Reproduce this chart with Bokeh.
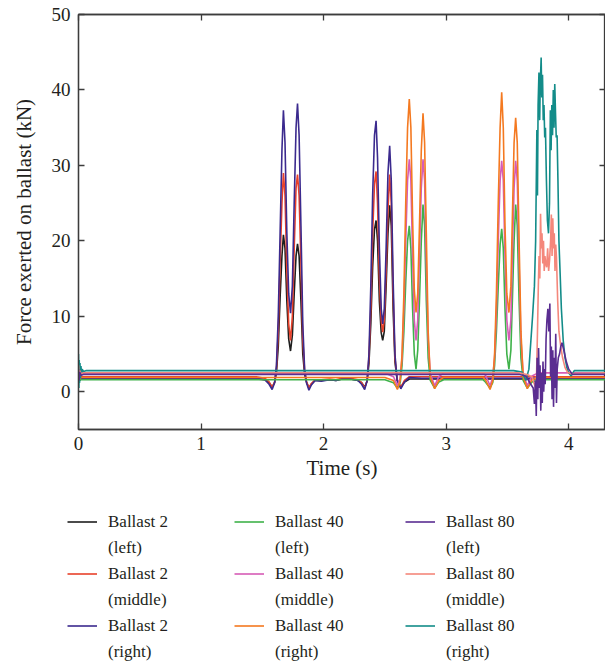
from bokeh.plotting import figure
from bokeh.layouts import column
from bokeh.models import Range1d, LinearAxis, FixedTicker, Legend, LegendItem
from bokeh.core.properties import value
from bokeh.embed import file_html
from bokeh.resources import INLINE

FONT = "Liberation Serif"
TXT = "#231f20"

# ---------------- data ----------------
# Ballast 2 group (shared time axis, s)
T2 = [0.0, 0.004, 0.008, 0.012, 0.02, 0.03, 0.05, 1.0, 1.45, 1.52,
      1.555, 1.58, 1.60, 1.615, 1.63, 1.645, 1.66, 1.672, 1.685, 1.70,
      1.715, 1.73, 1.745, 1.76, 1.775, 1.787, 1.80, 1.815, 1.83, 1.845,
      1.86, 1.88, 1.90, 1.93, 1.98, 2.05, 2.10, 2.15, 2.22, 2.28,
      2.31, 2.335, 2.355, 2.37, 2.385, 2.40, 2.415, 2.428, 2.44, 2.455,
      2.47, 2.482, 2.495, 2.51, 2.525, 2.539, 2.552, 2.567, 2.582, 2.60,
      2.63, 2.66, 2.70, 2.80, 3.2, 3.9, 4.3]
B2_left = [2.0, 1.4, 1.9, 1.6, 1.7, 1.7, 1.7, 1.7, 1.7, 1.6,
           1.2, 0.6, 1.2, 2.5, 6, 12.5, 18, 20.8, 19, 12,
           7, 5.4, 7.5, 13, 18, 19.6, 18, 12, 5, 2.3,
           1.3, 0.5, 1.0, 1.5, 1.5, 1.6, 1.5, 1.7, 1.7, 1.5,
           1.2, 0.6, 1.4, 3.8, 9, 16.5, 21.5, 22.7, 20, 12,
           7.8, 6.8, 8, 14, 21, 24.7, 22, 11, 4, 1.5,
           0.6, 1.3, 1.7, 1.7, 1.7, 1.7, 1.7]
B2_middle = [2.5, 1.5, 2.3, 1.8, 2.0, 2.0, 2.0, 2.0, 2.0, 1.8,
             1.3, 0.6, 1.3, 3.0, 8, 17, 25, 29.0, 26, 16,
             9, 6.8, 10, 19, 27, 28.8, 26, 17, 7, 2.8,
             1.4, 0.5, 1.1, 1.6, 1.6, 1.7, 1.6, 1.8, 1.8, 1.6,
             1.2, 0.5, 1.5, 4.5, 11, 21, 27.5, 29.2, 25, 15,
             9.5, 7.9, 9.5, 16, 24, 28.8, 25, 13, 4.5, 1.6,
             0.6, 1.5, 2.0, 2.0, 2.0, 2.0, 2.0]
B2_right = [3.0, 1.2, 2.2, 1.6, 1.9, 1.8, 1.8, 1.8, 1.8, 1.6,
            1.0, 0.3, 1.2, 3.5, 10, 21, 32, 37.3, 33, 21,
            13, 10.4, 14, 25, 35, 38.2, 34, 22, 9, 3,
            1.2, 0.2, 0.9, 1.5, 1.4, 1.6, 1.5, 1.7, 1.7, 1.5,
            1.0, 0.3, 1.5, 5, 14, 26, 34, 35.9, 31, 19,
            11, 9, 11, 19, 29, 32.6, 28, 15, 5, 1.5,
            0.4, 1.3, 1.9, 1.8, 1.8, 1.8, 1.8]

# Ballast 40 group
T40 = [0.0, 0.004, 0.008, 0.012, 0.02, 0.03, 0.05, 1.0, 2.50, 2.57,
       2.602, 2.625, 2.64, 2.655, 2.67, 2.685, 2.699, 2.712, 2.726, 2.74,
       2.754, 2.768, 2.782, 2.797, 2.811, 2.824, 2.838, 2.853, 2.87, 2.906,
       2.94, 2.98, 3.10, 3.30, 3.32, 3.358, 3.38, 3.395, 3.41, 3.425,
       3.44, 3.453, 3.466, 3.48, 3.495, 3.512, 3.528, 3.54, 3.554, 3.567,
       3.58, 3.595, 3.61, 3.628, 3.662, 3.70, 3.75, 4.0, 4.3]
B40_left = [2.0, 1.2, 1.9, 1.5, 1.6, 1.6, 1.6, 1.6, 1.6, 1.2,
            0.5, 1.2, 3.5, 8, 14.5, 20, 22.0, 19, 11, 5,
            3.0, 5.5, 12, 20, 24.8, 22, 12, 4.5, 1.5, 0.5,
            1.3, 1.6, 1.6, 1.6, 1.3, 0.5, 1.2, 3.5, 8, 14,
            19.5, 21.6, 19, 11, 5, 3.0, 5.5, 12, 20, 24.8,
            22, 12, 4.5, 1.5, 0.5, 1.3, 1.6, 1.6, 1.6]
B40_middle = [3.5, 1.5, 3.0, 2.2, 2.5, 2.5, 2.5, 2.5, 2.5, 2.0,
              0.8, 1.8, 4.5, 11, 20, 28, 30.8, 28, 18, 9.5,
              6.8, 9.5, 18, 27, 30.8, 28, 17, 7, 2.4, 0.8,
              2.0, 2.5, 2.5, 2.5, 2.2, 0.8, 1.9, 4.5, 10.5, 20,
              28, 30.6, 28, 18, 9.5, 6.8, 9.5, 18, 27, 30.6,
              28, 17, 7, 2.4, 0.8, 2.1, 2.5, 2.5, 2.5]
B40_right = [2.4, 1.4, 2.2, 1.7, 1.9, 1.9, 1.9, 1.9, 1.9, 1.5,
             0.3, 1.5, 5, 13, 25, 35, 38.8, 35, 23, 13.5,
             10.5, 13, 22, 32, 36.9, 33, 21, 8, 2.0, 0.4,
             1.5, 1.9, 1.9, 1.9, 1.6, 0.3, 1.5, 5, 13, 25,
             35, 39.7, 35, 22, 13, 10.5, 14, 23, 33, 36.3,
             33, 20, 8, 2.0, 0.4, 1.6, 1.9, 1.9, 1.9]

# Ballast 80 (each with its own time axis)
T80_left = [0.0, 0.005, 0.01, 0.02, 0.04, 1.0, 3.60, 3.65, 3.69, 3.71,
            3.72, 3.728, 3.735, 3.742, 3.748, 3.754, 3.76, 3.766, 3.772, 3.778,
            3.784, 3.79, 3.796, 3.802, 3.808, 3.815, 3.822, 3.83, 3.838, 3.846,
            3.852, 3.858, 3.864, 3.87, 3.876, 3.882, 3.888, 3.894, 3.90, 3.906,
            3.915, 3.925, 3.935, 3.945, 3.96, 3.98, 4.0, 4.03, 4.3]
B80_left = [3.0, 1.5, 2.6, 2.2, 2.3, 2.3, 2.3, 2.1, 1.0, 0.5,
            -1.6, 1.5, -3.2, 4.5, -1.0, 5.8, 0.5, 3.5, -2.5, 2.5,
            -1.5, 4.0, 0.0, 3.0, 1.0, 7.0, 9.5, 11.0, 8.0, 11.7,
            2.0, 6.0, -1.0, 5.5, -2.0, 4.5, 0.5, 7.7, -1.5, 3.0,
            4.5, 5.0, 6.0, 6.5, 5.5, 4.0, 3.0, 2.3, 2.3]
T80_middle = [0.0, 0.005, 0.01, 0.02, 0.04, 1.0, 3.60, 3.66, 3.70, 3.72,
              3.735, 3.745, 3.752, 3.758, 3.764, 3.77, 3.776, 3.782, 3.788, 3.794,
              3.80, 3.806, 3.812, 3.82, 3.828, 3.836, 3.844, 3.852, 3.858, 3.864,
              3.87, 3.876, 3.882, 3.888, 3.894, 3.90, 3.91, 3.92, 3.935, 3.95,
              3.97, 3.99, 4.02, 4.3]
B80_middle = [3.5, 1.8, 2.8, 2.4, 2.5, 2.5, 2.5, 2.3, 2.0, 1.0,
              0.3, 8, 14, 18, 15, 23.6, 19, 21, 17, 20,
              16, 18, 17, 16.5, 19, 16, 17.5, 20, 23.5, 18,
              23, 19, 21, 16, 19.5, 17.8, 12, 8, 6, 4.5,
              3.2, 2.6, 2.4, 2.5]
T80_right = [0.0, 0.003, 0.006, 0.009, 0.012, 0.016, 0.02, 0.025, 0.03, 0.04,
             0.06, 1.0, 3.55, 3.62, 3.65, 3.675, 3.69, 3.705, 3.72, 3.73,
             3.74, 3.745, 3.75, 3.757, 3.763, 3.768, 3.775, 3.78, 3.786, 3.792,
             3.798, 3.804, 3.81, 3.818, 3.826, 3.835, 3.843, 3.85, 3.856, 3.862,
             3.868, 3.874, 3.88, 3.886, 3.892, 3.898, 3.905, 3.912, 3.92, 3.93,
             3.94, 3.955, 3.97, 3.985, 4.0, 4.02, 4.045, 4.08, 4.3]
B80_right = [5.0, 0.5, 4.2, 1.2, 3.8, 1.8, 3.4, 2.2, 3.0, 2.7,
             2.8, 2.8, 2.8, 2.6, 1.5, 3.0, 6.5, 10, 14, 20,
             34.7, 26, 38, 42.3, 36, 41, 44.3, 39, 42, 36,
             38, 33.7, 35, 28, 22.7, 21, 25, 37.3, 32, 38,
             34, 40, 35, 40.8, 37, 33.7, 34, 28, 20, 15.6,
             11, 6.8, 4.5, 3.2, 2.5, 2.1, 2.8, 2.8, 2.8]

X_TICKS = [0, 1, 2, 3, 4]
Y_TICKS = [0, 10, 20, 30, 40, 50]

GROUPS = ["Ballast 2", "Ballast 40", "Ballast 80"]
POSITIONS = ["(left)", "(middle)", "(right)"]
KEYS = [["B2_left", "B2_middle", "B2_right"],
        ["B40_left", "B40_middle", "B40_right"],
        ["B80_left", "B80_middle", "B80_right"]]
COLORS = {
    "B2_left": "#1e1e1e", "B2_middle": "#e8412b", "B2_right": "#3b2a8e",
    "B40_left": "#3fb24a", "B40_middle": "#d65cb6", "B40_right": "#f47920",
    "B80_left": "#5a2d91", "B80_middle": "#f4877b", "B80_right": "#138c89",
}

SERIES = {"B2_left": (T2, B2_left), "B2_middle": (T2, B2_middle),
          "B2_right": (T2, B2_right), "B40_left": (T40, B40_left),
          "B40_middle": (T40, B40_middle), "B40_right": (T40, B40_right),
          "B80_right": (T80_right, B80_right),
          "B80_middle": (T80_middle, B80_middle),
          "B80_left": (T80_left, B80_left)}
DRAW_ORDER = ["B2_left", "B2_middle", "B2_right", "B40_left", "B40_middle",
              "B40_right", "B80_right", "B80_middle", "B80_left"]

# ---------------- main figure ----------------
p = figure(width=605, height=492, output_backend="svg", toolbar_location=None,
           x_range=Range1d(0, 4.3), y_range=Range1d(-5, 50),
           min_border_left=78, min_border_right=0, min_border_top=14,
           min_border_bottom=63)
p.grid.visible = False
p.outline_line_color = "#3c3c3c"
p.outline_line_width = 1.3

LW = 1.6
for key in DRAW_ORDER:
    tx, vy = SERIES[key]
    p.line(tx, vy, color=COLORS[key], line_width=LW)


def style_axis(ax, labels=True):
    ax.major_tick_in = 6
    ax.major_tick_out = 0
    ax.minor_tick_line_color = None
    ax.axis_line_color = "#3c3c3c"
    ax.axis_line_width = 1.3
    ax.major_tick_line_color = "#3c3c3c"
    ax.major_tick_line_width = 1.3
    if labels:
        ax.major_label_text_font = FONT
        ax.major_label_text_font_size = "19px"
        ax.major_label_text_color = TXT
        ax.axis_label_text_font = FONT
        ax.axis_label_text_font_size = "21px"
        ax.axis_label_text_color = TXT
        ax.axis_label_text_font_style = "normal"
    else:
        ax.major_label_text_font_size = "0px"
        ax.major_label_standoff = 0


p.xaxis.ticker = FixedTicker(ticks=X_TICKS)
p.yaxis.ticker = FixedTicker(ticks=Y_TICKS)
style_axis(p.xaxis[0])
style_axis(p.yaxis[0])
p.xaxis.axis_label = "Time (s)"
p.yaxis.axis_label = "Force exerted on ballast (kN)"
p.xaxis.major_label_standoff = 7
p.yaxis.major_label_standoff = 8
p.xaxis.axis_label_standoff = 3
p.yaxis.axis_label_standoff = 13

top = LinearAxis(ticker=FixedTicker(ticks=X_TICKS))
style_axis(top, labels=False)
p.add_layout(top, "above")
right = LinearAxis(ticker=FixedTicker(ticks=Y_TICKS))
style_axis(right, labels=False)
p.add_layout(right, "right")

# ---------------- legend figure (3 columns, two-line labels) ----------------
# same series drawn again, but outside this figure's visible range:
# they only serve as legend proxies.
lg = figure(width=605, height=173, output_backend="svg", toolbar_location=None,
            x_axis_type=None, y_axis_type=None,
            x_range=Range1d(0, 4.3), y_range=Range1d(1000, 1001),
            min_border_left=0, min_border_right=0, min_border_top=0,
            min_border_bottom=0)
lg.grid.visible = False
lg.outline_line_color = None

try:
    lg.frame_align = False
    p.frame_align = False
    x_offsets = [67, 234, 405]
except Exception:
    x_offsets = [-11, 156, 327]

dummy = lg.line(T2, B2_left, line_alpha=0)
for g, grp in enumerate(GROUPS):
    items = []
    for k, pos in zip(KEYS[g], POSITIONS):
        tx, vy = SERIES[k]
        rr = lg.line(tx, vy, color=COLORS[k], line_width=LW)
        items.append(LegendItem(label=value(grp), renderers=[rr]))
        items.append(LegendItem(label=value(pos), renderers=[dummy]))
    leg = Legend(items=items, location=(x_offsets[g], 3),
                 orientation="vertical",
                 glyph_width=30, glyph_height=21, label_height=21,
                 label_standoff=11, spacing=5, padding=0, margin=0,
                 border_line_alpha=0, background_fill_alpha=0,
                 label_text_font=FONT, label_text_font_size="17px",
                 label_text_color=TXT)
    lg.add_layout(leg)

open("out.html", "w").write(file_html(column(p, lg, spacing=0), INLINE))
